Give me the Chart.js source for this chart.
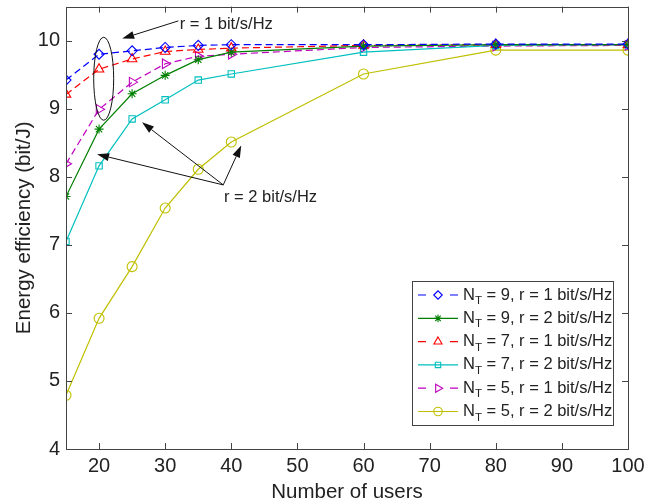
<!DOCTYPE html>
<html>
<head>
<meta charset="utf-8">
<script src="https://cdn.jsdelivr.net/npm/chart.js@4/dist/chart.umd.min.js"></script>
<style>
  html, body { margin: 0; padding: 0; background: #fff; }
  #wrap { width: 660px; height: 503px; }
</style>
</head>
<body>
<div id="wrap"><canvas id="eeChart" width="660" height="503"></canvas></div>
<script>
// number of users
const users = [15, 20, 25, 30, 35, 40, 60, 80, 100];

// energy efficiency (bit/J)
const nt9r1 = [9.42, 9.80, 9.85, 9.90, 9.93, 9.94, 9.94, 9.95, 9.95];
const nt9r2 = [7.71, 8.70, 9.22, 9.49, 9.72, 9.83, 9.92, 9.94, 9.94];
const nt7r1 = [9.21, 9.58, 9.73, 9.84, 9.87, 9.89, 9.93, 9.94, 9.94];
const nt7r2 = [7.05, 8.16, 8.85, 9.13, 9.42, 9.51, 9.83, 9.93, 9.94];
const nt5r1 = [8.19, 8.99, 9.39, 9.66, 9.77, 9.80, 9.90, 9.92, 9.93];
const nt5r2 = [4.79, 5.92, 6.68, 7.54, 8.11, 8.51, 9.51, 9.86, 9.86];

const xTicks = [20, 30, 40, 50, 60, 70, 80, 90, 100];
const yTicks = [4, 5, 6, 7, 8, 9, 10];

const FONT = "'Liberation Sans', Arial, Helvetica, sans-serif";
const dash = [7, 4];

function series(label, values, color, style, dashed, radius, rotation) {
  return {
    label: label,
    data: users.map((u, i) => ({ x: u, y: values[i] })),
    borderColor: color,
    borderWidth: 1.2,
    borderDash: dashed ? dash : [],
    pointStyle: style,
    pointRotation: rotation || 0,
    pointRadius: radius,
    pointBorderColor: color,
    pointBackgroundColor: "rgba(0,0,0,0)",
    pointBorderWidth: 1.1,
    tension: 0,
    fill: false,
  };
}

const datasets = [
  series("9|1", nt9r1, "#0000ff", "rectRot", true, 5),
  series("9|2", nt9r2, "#008000", "star", false, 4.5),
  series("7|1", nt7r1, "#ff0000", "triangle", true, 5.5),
  series("7|2", nt7r2, "#00bfbf", "rect", false, 4.5),
  series("5|1", nt5r1, "#bf00bf", "triangle", true, 5.5, 90),
  series("5|2", nt5r2, "#bfbf00", "circle", false, 5),
];

// box, inward ticks, annotations and legend
const decor = {
  id: "decor",
  afterDatasetsDraw(chart) {
    const ctx = chart.ctx;
    const a = chart.chartArea;
    const xs = chart.scales.x, ys = chart.scales.y;
    const px = (v) => xs.getPixelForValue(v);
    const py = (v) => ys.getPixelForValue(v);

    ctx.save();
    ctx.strokeStyle = "#444";
    ctx.lineWidth = 1;
    xTicks.forEach((t) => {
      const x = Math.round(px(t)) + 0.5;
      ctx.beginPath();
      ctx.moveTo(x, a.bottom); ctx.lineTo(x, a.bottom - 6);
      ctx.moveTo(x, a.top); ctx.lineTo(x, a.top + 6);
      ctx.stroke();
    });
    yTicks.forEach((t) => {
      const y = Math.round(py(t)) + 0.5;
      ctx.beginPath();
      ctx.moveTo(a.left, y); ctx.lineTo(a.left + 6, y);
      ctx.moveTo(a.right, y); ctx.lineTo(a.right - 6, y);
      ctx.stroke();
    });
    ctx.strokeRect(Math.round(a.left) + 0.5, Math.round(a.top) + 0.5,
      Math.round(a.right - a.left), Math.round(a.bottom - a.top));

    // annotations
    ctx.strokeStyle = "#111";
    ctx.fillStyle = "#111";
    ctx.lineWidth = 1;
    ctx.beginPath();
    ctx.ellipse(px(20.7), py(9.44), 10, 41.5, 0, 0, Math.PI * 2);
    ctx.stroke();

    function arrow(x0, y0, x1, y1) {
      const ang = Math.atan2(y1 - y0, x1 - x0);
      const L = 12, W = 4;
      const bx = x1 - L * Math.cos(ang), by = y1 - L * Math.sin(ang);
      ctx.beginPath();
      ctx.moveTo(x0, y0); ctx.lineTo(bx, by);
      ctx.stroke();
      ctx.beginPath();
      ctx.moveTo(x1, y1);
      ctx.lineTo(bx + W * Math.sin(ang), by - W * Math.cos(ang));
      ctx.lineTo(bx - W * Math.sin(ang), by + W * Math.cos(ang));
      ctx.closePath();
      ctx.fill();
    }
    arrow(px(32.0), py(10.29), px(23.5), py(10.03));
    const tx = px(38.78), ty = py(7.88);
    arrow(tx, ty, px(19.7), py(8.33));
    arrow(tx, ty, px(26.5), py(8.80));
    arrow(tx, ty, px(41.5), py(8.46));

    ctx.font = "16.5px " + FONT;
    ctx.textBaseline = "middle";
    ctx.textAlign = "left";
    ctx.fillStyle = "#222";
    ctx.fillText("r = 1 bit/s/Hz", px(32.2), py(10.24));
    ctx.fillText("r = 2 bit/s/Hz", px(38.9), py(7.70));

    // legend
    const lx = 412, ly = 281, lw = 201, lh = 144;
    ctx.fillStyle = "#fff";
    ctx.fillRect(lx, ly, lw, lh);
    ctx.strokeStyle = "#444";
    ctx.strokeRect(lx + 0.5, ly + 0.5, lw, lh);
    datasets.forEach((ds, i) => {
      const y = ly + 14 + i * 23.3;
      ctx.strokeStyle = ds.borderColor;
      ctx.lineWidth = ds.borderWidth;
      ctx.beginPath();
      if (ds.borderDash.length) {
        ctx.moveTo(418, y); ctx.lineTo(426, y);
        ctx.moveTo(450, y); ctx.lineTo(458, y);
      } else {
        ctx.moveTo(418, y); ctx.lineTo(458, y);
      }
      ctx.stroke();
      ctx.fillStyle = "rgba(0,0,0,0)";
      ctx.lineWidth = ds.pointBorderWidth;
      if (Chart.helpers && Chart.helpers.drawPoint) {
        Chart.helpers.drawPoint(ctx, {
          pointStyle: ds.pointStyle, rotation: ds.pointRotation,
          radius: ds.pointRadius * 0.85, borderWidth: ds.pointBorderWidth,
        }, 438, y);
      }
      const parts = ds.label.split("|");
      ctx.fillStyle = "#222";
      ctx.font = "16.5px " + FONT;
      ctx.fillText("N", 463, y);
      let w = ctx.measureText("N").width;
      ctx.font = "11.5px " + FONT;
      ctx.fillText("T", 463 + w, y + 6);
      w += ctx.measureText("T").width;
      ctx.font = "16.5px " + FONT;
      ctx.fillText(" = " + parts[0] + ", r = " + parts[1] + " bit/s/Hz", 463 + w, y);
    });
    ctx.restore();
  },
};

new Chart(document.getElementById("eeChart"), {
  type: "line",
  data: { datasets: datasets },
  options: {
    responsive: false,
    animation: false,
    layout: { padding: { left: 0, right: 32, top: 6, bottom: 0 } },
    plugins: { legend: { display: false }, tooltip: { enabled: false } },
    scales: {
      x: {
        type: "linear",
        min: 15,
        max: 100,
        afterFit: (s) => { s.height = 54; s.paddingLeft = 0; s.paddingRight = 0; },
        afterBuildTicks: (s) => { s.ticks = xTicks.map((v) => ({ value: v })); },
        grid: { display: false, drawTicks: false },
        border: { display: false },
        ticks: { color: "#222", font: { family: FONT, size: 20 }, padding: 5, maxRotation: 0 },
        title: { display: true, text: "Number of users", color: "#222",
          font: { family: FONT, size: 20.5, lineHeight: 1 }, padding: { top: 0, bottom: 0 } },
      },
      y: {
        type: "linear",
        min: 4,
        max: 10.5,
        afterFit: (s) => { s.width = 66; s.paddingTop = 0; s.paddingBottom = 0; },
        afterBuildTicks: (s) => { s.ticks = yTicks.map((v) => ({ value: v })); },
        grid: { display: false, drawTicks: false },
        border: { display: false },
        ticks: { color: "#222", font: { family: FONT, size: 20 }, padding: 6 },
        title: { display: true, text: "Energy efficiency (bit/J)", color: "#222",
          font: { family: FONT, size: 20.5 }, padding: { top: 12, bottom: 0 } },
      },
    },
  },
  plugins: [decor],
});
</script>
</body>
</html>
